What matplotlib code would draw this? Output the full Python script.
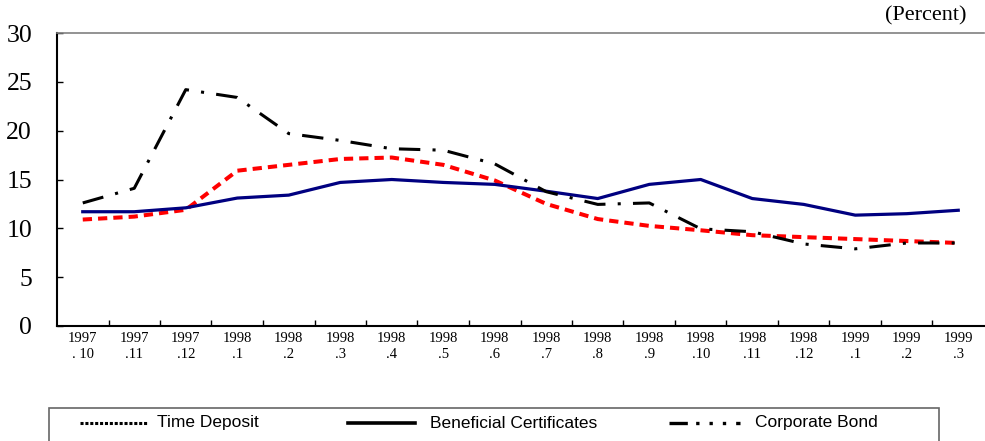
import numpy as np
import matplotlib.pyplot as plt
from matplotlib.lines import Line2D
from matplotlib.patches import Rectangle

# Data
months = ['1997\n. 10', '1997\n.11', '1997\n.12', '1998\n.1', '1998\n.2', '1998\n.3',
          '1998\n.4', '1998\n.5', '1998\n.6', '1998\n.7', '1998\n.8', '1998\n.9',
          '1998\n.10', '1998\n.11', '1998\n.12', '1999\n.1', '1999\n.2', '1999\n.3']
time_deposit = [10.9, 11.2, 11.9, 15.9, 16.5, 17.1, 17.25, 16.5, 14.9, 12.5, 10.95, 10.25,
                9.8, 9.3, 9.1, 8.9, 8.7, 8.5]
beneficial = [11.7, 11.7, 12.1, 13.1, 13.4, 14.7, 15.0, 14.7, 14.5, 13.8, 13.05, 14.5,
              15.0, 13.05, 12.45, 11.35, 11.5, 11.85]
corporate = [12.6, 14.1, 24.2, 23.4, 19.7, 19.0, 18.15, 18.0, 16.6, 13.75, 12.45, 12.6,
             9.95, 9.65, 8.4, 7.9, 8.5, 8.5]

W, H = 985, 441
fig = plt.figure(figsize=(W / 100, H / 100), dpi=100)
ax = fig.add_axes([57 / W, 1 - 326 / H, (984 - 57) / W, (326 - 33) / H])

x = np.arange(len(months))
ax.plot(x, time_deposit, color='#ff0000', lw=2.9, linestyle=(0, (2.3, 1.5)))
ax.plot(x, beneficial, color='#000080', lw=2.3, linestyle='-')
ax.plot(x, corporate, color='black', lw=2.2, linestyle=(0, (7, 4, 1, 4)))

ax.set_xlim(-0.5, len(months) - 0.5)
ax.set_ylim(0, 30)
ax.set_yticks([0, 5, 10, 15, 20, 25, 30])
ax.set_yticklabels(['0', '5', '10', '15', '20', '25', '30'],
                   fontfamily='Liberation Serif', fontsize=18.5)
ax.set_xticks(x)
ax.set_xticklabels(months, fontfamily='Liberation Serif', fontsize=10.5, linespacing=1.3)
ax.set_xticks(np.arange(0.5, len(months) - 1, 1), minor=True)
ax.tick_params(axis='x', which='major', length=0, pad=4)
ax.tick_params(axis='x', which='minor', direction='in', length=4, width=1)
ax.tick_params(axis='y', direction='in', length=4, width=1, pad=18)

for s in ['left', 'bottom']:
    ax.spines[s].set_color('black')
    ax.spines[s].set_linewidth(1.5)
ax.spines['top'].set_color('#808080')
ax.spines['top'].set_linewidth(1.2)
ax.spines['right'].set_visible(False)

fig.text(926 / W, 1 - 16 / H, '(Percent)', ha='center', va='center',
         fontfamily='Liberation Serif', fontsize=16)

# legend box drawn by hand (black handles as in the original)
def fx(px):
    return px / W

def fy(py):
    return 1 - py / H

fig.add_artist(Rectangle((fx(49), fy(450)), fx(939) - fx(49), fy(408) - fy(450),
                         transform=fig.transFigure, fill=False, edgecolor='#666666', lw=1.2))
ly = fy(423)
fig.add_artist(Line2D([fx(80), fx(147)], [ly, ly], transform=fig.transFigure,
                      color='black', lw=2.2, linestyle=(0, (1, 0.6))))
fig.add_artist(Line2D([fx(348), fx(415)], [ly, ly], transform=fig.transFigure,
                      color='black', lw=2.6, linestyle='-'))
fig.add_artist(Line2D([fx(669), fx(740)], [ly, ly], transform=fig.transFigure,
                      color='black', lw=2.4, linestyle=(0, (5.5, 2.5, 1, 3, 1, 3, 1, 3))))
for px, lab in [(157, 'Time Deposit'), (430, 'Beneficial Certificates'), (755, 'Corporate Bond')]:
    fig.text(fx(px), ly, lab, ha='left', va='center', fontfamily='Liberation Sans', fontsize=12.5)

fig.savefig('out.png', dpi=100)
